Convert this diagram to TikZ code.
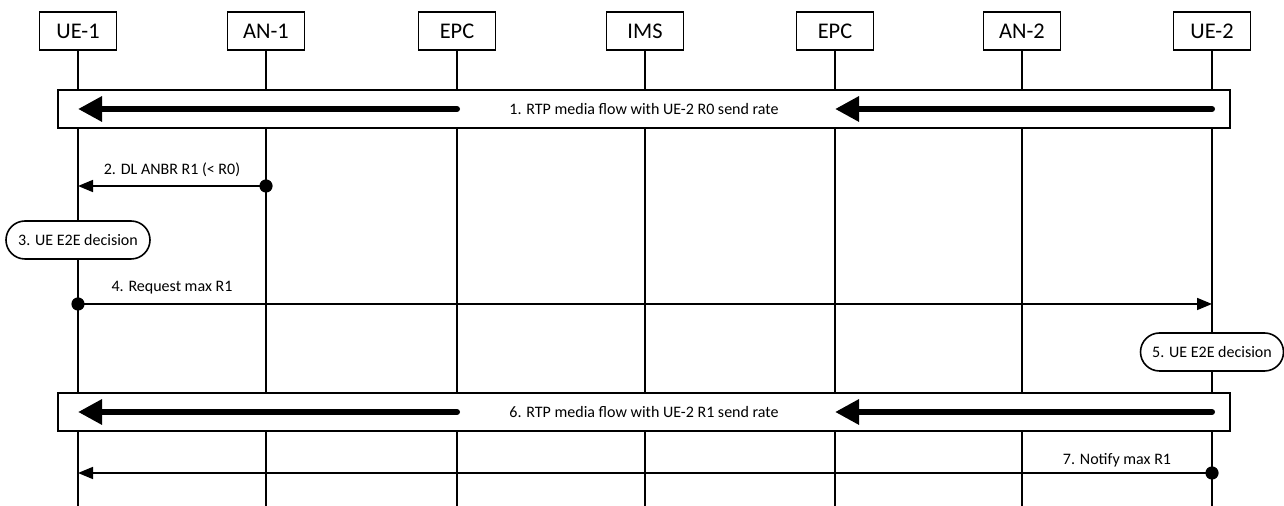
\documentclass[tikz,border=0pt]{standalone}
\usepackage{fontspec}
\setmainfont{Carlito}
\usetikzlibrary{arrows.meta}

\begin{document}
\begin{tikzpicture}[x=0.5pt,y=-0.5pt,
    entity/.style={draw,fill=white,line width=0.8pt,minimum width=38.5pt,minimum height=19pt,inner sep=0pt,font=\fontsize{11.2}{13}\selectfont},
    flowbox/.style={draw,fill=white,line width=0.8pt,minimum width=586pt,minimum height=19pt,inner sep=0pt,font=\fontsize{8}{9.5}\selectfont},
    decision/.style={draw,fill=white,line width=0.8pt,rounded corners=9.5pt,minimum width=72pt,minimum height=19pt,inner sep=0pt,font=\fontsize{8}{9.5}\selectfont},
    lbl/.style={inner sep=1pt,font=\fontsize{8}{9.5}\selectfont},
    lifeline/.style={line width=0.8pt},
    bigflow/.style={line width=3pt,line cap=round,-{Triangle[length=12pt,width=12pt]}},
    msg/.style={line width=0.8pt,-{Triangle[length=7.5pt,width=6pt]}}]
  \useasboundingbox (0,0) rectangle (1284,506);

  % entities
  \node[entity] (ue1)  at (78,31)   {UE-1};
  \node[entity] (an1)  at (266,31)  {AN-1};
  \node[entity] (epc1) at (457,31)  {EPC};
  \node[entity] (ims)  at (645,31)  {IMS};
  \node[entity] (epc2) at (835,31)  {EPC};
  \node[entity] (an2)  at (1022,31) {AN-2};
  \node[entity] (ue2)  at (1212,31) {UE-2};
  \foreach \n in {ue1,an1,epc1,ims,epc2,an2,ue2}
    \draw[lifeline] (\n.south) -- (\n |- 0,506);

  % 1. media flow
  \node[flowbox] (flow1) at (644,109) {1. RTP media flow with UE-2 R0 send rate};
  \draw[bigflow] (epc1 |- flow1) -- (ue1 |- flow1);
  \draw[bigflow] (ue2 |- flow1) -- (epc2 |- flow1);

  % 2. DL ANBR
  \coordinate (m2a) at (an1 |- 0,186);
  \coordinate (m2b) at (ue1 |- 0,186);
  \draw[msg] (m2a) -- (m2b);
  \fill (m2a) circle (3.3pt);
  \node[lbl] (l2) at (172,170) {2. DL ANBR R1 (< R0)};

  % 3. decision
  \node[decision] (dec3) at (78,240) {3. UE E2E decision};

  % 4. request
  \coordinate (m4a) at (ue1 |- 0,304);
  \coordinate (m4b) at (ue2 |- 0,304);
  \draw[msg] (m4a) -- (m4b);
  \fill (m4a) circle (3.3pt);
  \node[lbl] (l4) at (172,288) {4. Request max R1};

  % 5. decision
  \node[decision,minimum width=71.5pt] (dec5) at (1212,352) {5. UE E2E decision};

  % 6. media flow
  \node[flowbox] (flow6) at (644,412) {6. RTP media flow with UE-2 R1 send rate};
  \draw[bigflow] (epc1 |- flow6) -- (ue1 |- flow6);
  \draw[bigflow] (ue2 |- flow6) -- (epc2 |- flow6);

  % 7. notify
  \coordinate (m7a) at (ue2 |- 0,473);
  \coordinate (m7b) at (ue1 |- 0,473);
  \draw[msg] (m7a) -- (m7b);
  \fill (m7a) circle (3.3pt);
  \node[lbl] (l7) at (1117,460) {7. Notify max R1};
\end{tikzpicture}
\end{document}
